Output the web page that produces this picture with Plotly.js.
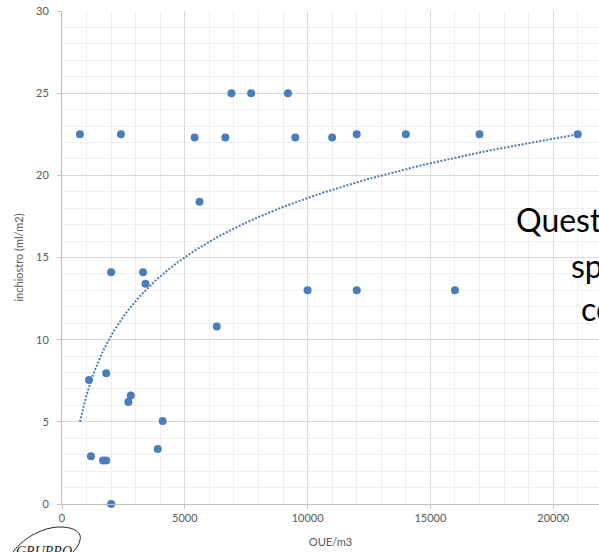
<!DOCTYPE html>
<html>
<head>
<meta charset="utf-8">
<script src="https://cdn.plot.ly/plotly-3.0.1.min.js"></script>
<style>
  html, body { margin: 0; padding: 0; background: #ffffff; }
  #chart { width: 599px; height: 552px; }
</style>
</head>
<body>
<div id="chart"></div>
<script>
// Data
const oue = [730, 2400, 5400, 6650, 6900, 7700, 9200, 9500, 11000, 12000, 14000, 17000, 21000,
             5600, 2000, 3300, 3400, 6300, 1100, 1800, 2800, 2700, 4100, 3900, 1180, 1670, 1800, 2000,
             10000, 12000, 16000];
const inchiostro = [22.5, 22.5, 22.3, 22.3, 25, 25, 25, 22.3, 22.3, 22.5, 22.5, 22.5, 22.5,
                    18.4, 14.1, 14.1, 13.4, 10.8, 7.55, 7.95, 6.6, 6.2, 5.05, 3.35, 2.9, 2.65, 2.65, 0,
                    13, 13, 13];
const xTicks = [0, 5000, 10000, 15000, 20000];
const yTicks = [0, 5, 10, 15, 20, 25, 30];
const xTitle = 'OUE/m3';
const yTitle = 'inchiostro (ml/m2)';
const noteLines = ['Quest', 'sp', 'co'];
const logoText = 'GRUPPO';

// Logarithmic trendline (least squares on ln x), as in the spreadsheet chart
const lnx = oue.map(v => Math.log(v));
const n = oue.length;
const mL = lnx.reduce((a, b) => a + b, 0) / n;
const mY = inchiostro.reduce((a, b) => a + b, 0) / n;
let sxy = 0, sxx = 0;
for (let i = 0; i < n; i++) { sxy += (lnx[i] - mL) * (inchiostro[i] - mY); sxx += (lnx[i] - mL) ** 2; }
const slope = sxy / sxx, icpt = mY - slope * mL;
const xMin = Math.min(...oue), xMax = Math.max(...oue);
const trendX = [], trendY = [];
for (let k = 0; k <= 120; k++) {
  const xv = Math.exp(Math.log(xMin) + (Math.log(xMax) - Math.log(xMin)) * k / 120);
  trendX.push(xv); trendY.push(slope * Math.log(xv) + icpt);
}

// Layout geometry
const W = 599, H = 552, ML = 62, MR = 0, MT = 11, MB = 48;
const pw = W - ML - MR, ph = H - MT - MB;
const px = p => (p - ML) / pw;
const py = p => (H - MB - p) / ph;

const blue = '#4a7ebb';
const grey = '#595959';

const traces = [
  { x: trendX, y: trendY, mode: 'lines', type: 'scatter', hoverinfo: 'skip',
    line: { color: '#4f79b3', width: 2, dash: '2px,1.6px' }, showlegend: false },
  { x: oue, y: inchiostro, mode: 'markers', type: 'scatter',
    marker: { color: blue, size: 8 }, showlegend: false, cliponaxis: false }
];

const logoPath = [[13, 552], [25, 536], [45, 527], [60, 527], [75, 527], [82, 533], [80, 540], [79, 545], [76, 549], [72, 553]];
const pth = 'M ' + px(logoPath[0][0]) + ',' + py(logoPath[0][1]) +
  ' C ' + logoPath.slice(1, 4).map(p => px(p[0]) + ',' + py(p[1])).join(' ') +
  ' C ' + logoPath.slice(4, 7).map(p => px(p[0]) + ',' + py(p[1])).join(' ') +
  ' C ' + logoPath.slice(7, 10).map(p => px(p[0]) + ',' + py(p[1])).join(' ');

const notePos = [[514, 219], [569, 265], [579, 308]];

const layout = {
  width: W, height: H,
  margin: { l: ML, r: MR, t: MT, b: MB },
  paper_bgcolor: '#ffffff', plot_bgcolor: '#ffffff',
  font: { family: 'Lato, "Open Sans", sans-serif', color: grey, size: 11 },
  xaxis: {
    range: [0, 5000 * pw / 122.8], tickvals: xTicks, ticktext: xTicks.map(String),
    showgrid: true, gridcolor: '#d9d9d9', gridwidth: 1,
    minor: { dtick: 1000, showgrid: true, gridcolor: '#efefef', gridwidth: 1, ticks: '' },
    zeroline: false, showline: true, linecolor: '#bfbfbf', linewidth: 1,
    ticks: 'outside', ticklen: 4, tickcolor: '#bfbfbf',
    tickfont: { size: 11, color: grey },
    title: { text: xTitle, font: { size: 11, color: grey }, standoff: 15 }
  },
  yaxis: {
    range: [0, 30], tickvals: yTicks, ticktext: yTicks.map(String),
    showgrid: true, gridcolor: '#d9d9d9', gridwidth: 1,
    minor: { dtick: 1, showgrid: true, gridcolor: '#efefef', gridwidth: 1, ticks: '' },
    zeroline: false, showline: true, linecolor: '#bfbfbf', linewidth: 1,
    ticks: 'outside', ticklen: 4, tickcolor: '#bfbfbf', ticklabelstandoff: 6,
    tickfont: { size: 11, color: grey },
    title: { text: yTitle, font: { size: 11, color: grey }, standoff: 10 }
  },
  shapes: [
    { type: 'path', xref: 'paper', yref: 'paper', path: pth,
      line: { color: '#222222', width: 1 }, fillcolor: 'rgba(0,0,0,0)' }
  ],
  annotations: noteLines.map((t, i) => ({
    text: t, xref: 'paper', yref: 'paper', x: px(notePos[i][0]), y: py(notePos[i][1]),
    xanchor: 'left', yanchor: 'middle', showarrow: false,
    font: { family: 'Lato, "Open Sans", sans-serif', size: 32, color: '#000000' }
  })).concat([{
    text: '<i>' + logoText + '</i>', xref: 'paper', yref: 'paper', x: px(44), y: py(551),
    xanchor: 'center', yanchor: 'middle', showarrow: false,
    font: { family: '"Liberation Serif", "DejaVu Serif", serif', size: 14, color: '#222222' }
  }])
};

Plotly.newPlot('chart', traces, layout, { displayModeBar: false, staticPlot: true });
</script>
</body>
</html>
